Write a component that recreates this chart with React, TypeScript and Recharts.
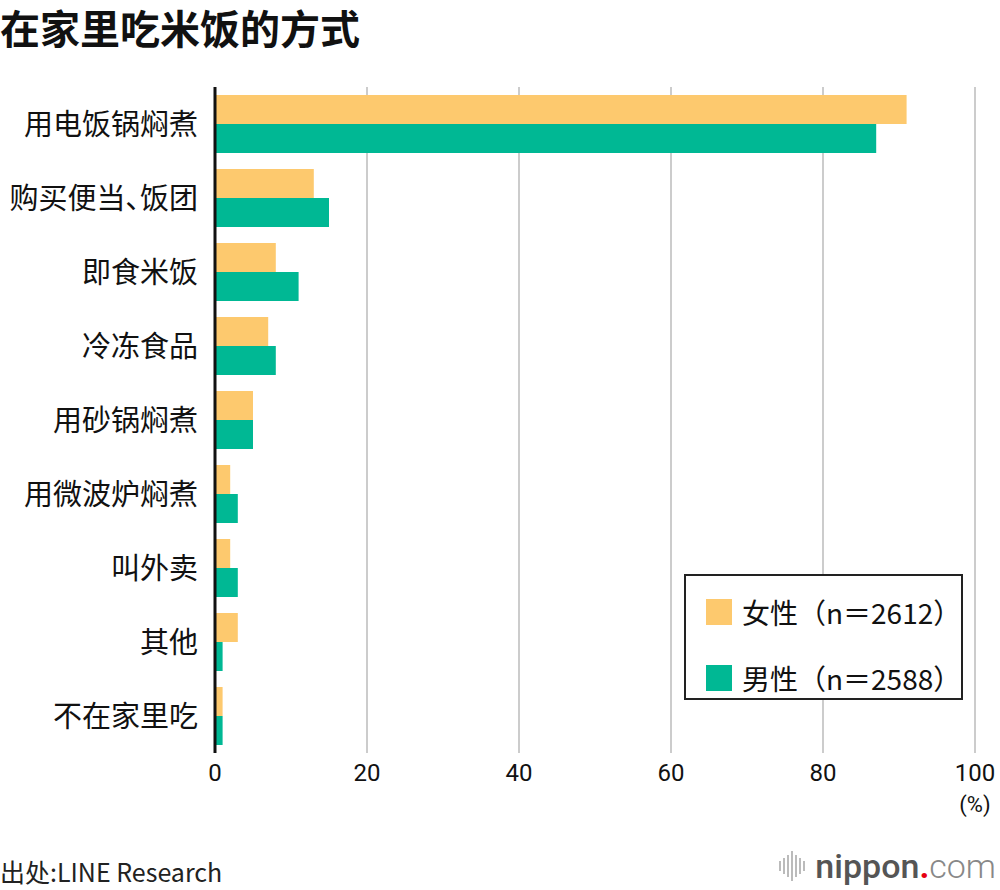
import { BarChart, Bar, XAxis, YAxis, CartesianGrid } from 'recharts';

const categories = ['用电饭锅焖煮', '购买便当、饭团', '即食米饭', '冷冻食品', '用砂锅焖煮', '用微波炉焖煮', '叫外卖', '其他', '不在家里吃'];
const female = [91, 13, 8, 7, 5, 2, 2, 3, 1];
const male = [87, 15, 11, 8, 5, 3, 3, 1, 1];
const xTicks = [0, 20, 40, 60, 80, 100];
const seriesNames = ['女性（n＝2612）', '男性（n＝2588）'];

const FEMALE = '#fdc96e';
const MALE = '#00b894';
const FONT = '"Noto Sans CJK SC", "Noto Sans", sans-serif';

const data = categories.map((c, i) => ({ name: c, female: female[i], male: male[i] }));

const XTick = (props: any) => {
  const { x, y, payload } = props;
  return (
    <g>
      <text x={x} y={y + 20} textAnchor="middle" fontSize={24} fill="#111" fontFamily="Roboto, sans-serif">
        {payload.value}
      </text>
      {payload.value === 100 && (
        <text x={x} y={y + 51} textAnchor="middle" fontSize={22} fill="#111" fontFamily="Roboto, sans-serif">
          (%)
        </text>
      )}
    </g>
  );
};

const YTick = (props: any) => {
  const { x, y, payload } = props;
  return (
    <text
      x={x - 9}
      y={y + 11}
      textAnchor="end"
      fontSize={29}
      fill="#111"
      fontFamily={FONT}
      style={{ fontFeatureSettings: '"palt"' }}
    >
      {payload.value}
    </text>
  );
};

const LegendBox = () => (
  <div
    style={{
      position: 'absolute',
      left: 684,
      top: 574,
      width: 275,
      height: 122,
      border: '2px solid #222',
      background: '#fff',
      fontFamily: FONT,
      fontSize: 28,
      color: '#111',
    }}
  >
    {[FEMALE, MALE].map((c, i) => (
      <div key={i} style={{ display: 'flex', alignItems: 'center', height: 36, marginTop: i === 0 ? 18 : 30, marginLeft: 20 }}>
        <div style={{ width: 26, height: 26, background: c, marginRight: 10 }} />
        <span>{seriesNames[i]}</span>
      </div>
    ))}
  </div>
);

export default function App() {
  return (
    <div style={{ position: 'absolute', left: 0, top: 0, width: 1000, height: 890, background: '#fff', fontFamily: FONT }}>
      <div style={{ position: 'absolute', left: 0, top: 2, fontSize: 40, fontWeight: 700, color: '#111', lineHeight: '50px' }}>在家里吃米饭的方式</div>
      <BarChart
        width={1000}
        height={890}
        layout="vertical"
        data={data}
        margin={{ top: 87, right: 25, bottom: 97, left: 0 }}
        barCategoryGap={8}
        barGap={0}
      >
        <CartesianGrid horizontal={false} stroke="#cccccc" strokeWidth={2} />
        <XAxis
          type="number"
          domain={[0, 100]}
          ticks={xTicks}
          tick={<XTick />}
          tickLine={false}
          axisLine={false}
          height={40}
        />
        <YAxis
          type="category"
          dataKey="name"
          width={215}
          tick={<YTick />}
          tickLine={false}
          axisLine={{ stroke: '#111', strokeWidth: 3 }}
        />
        <Bar dataKey="female" name={seriesNames[0]} fill={FEMALE} isAnimationActive={false} />
        <Bar dataKey="male" name={seriesNames[1]} fill={MALE} isAnimationActive={false} />
      </BarChart>
      <LegendBox />
      <div style={{ position: 'absolute', left: 0, top: 853, fontSize: 25, color: '#222' }}>出处:LINE Research</div>
      <div style={{ position: 'absolute', right: 4, top: 846, display: 'flex', alignItems: 'center', fontFamily: 'Roboto, sans-serif', fontSize: 34, color: '#555' }}>
        <div style={{ display: 'flex', alignItems: 'center', marginRight: 8 }}>
          {[10, 16, 22, 30, 22, 16, 10].map((h, i) => (
            <div key={i} style={{ width: 2, height: h, background: '#bbb', marginRight: 2 }} />
          ))}
        </div>
        <span style={{ fontWeight: 500 }}>nippon</span>
        <span style={{ color: '#e60012', fontWeight: 700 }}>.</span>
        <span style={{ fontWeight: 300, color: '#888' }}>com</span>
      </div>
    </div>
  );
}
